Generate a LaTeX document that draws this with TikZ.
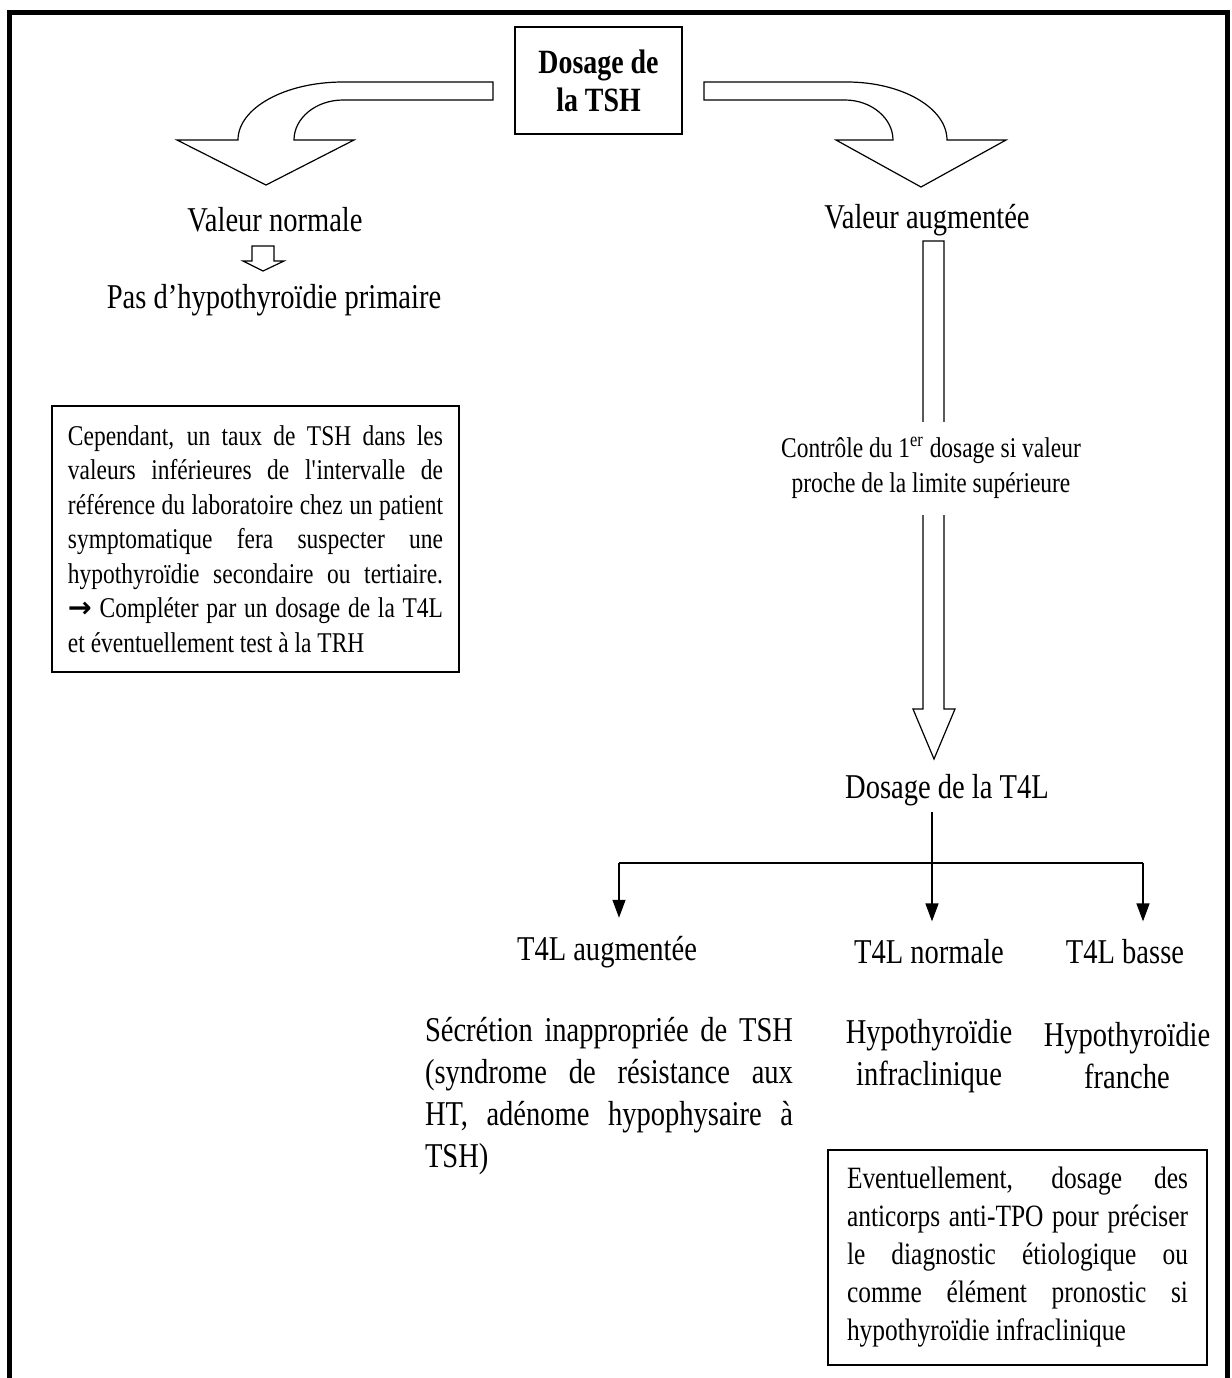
\documentclass[tikz,border=0pt]{standalone}
\usepackage{fontspec}
\setmainfont[FakeStretch=0.82]{Liberation Serif}
\newfontfamily\symfont{DejaVu Sans}
\usetikzlibrary{arrows.meta}

% one justified line of a text box
\newcommand{\jrow}[2]{\makebox[#1][s]{#2}}

\begin{document}
\begin{tikzpicture}[x=0.5pt,y=-0.5pt,
    big/.style={inner sep=0pt, font=\fontsize{17.4}{21}\selectfont, align=center},
    small/.style={font=\fontsize{14.3}{17.5}\selectfont, align=center},
    note/.style={draw, line width=0.7pt, align=left},
    block/.style={draw, line width=0.6pt, line join=miter},
    branch/.style={line width=0.7pt, -{Triangle[length=9pt,width=6.5pt]}}]

    \useasboundingbox (0,0) rectangle (1232,1378);

    % Outer frame
    \draw[line width=2.5pt] (9.5,1378) -- (9.5,12) -- (1227,12) -- (1227,1378);

    % Top box
    \node[draw, line width=0.7pt, minimum width=83.5pt, minimum height=53.5pt,
          font=\bfseries\fontsize{17}{19}\selectfont, align=center] (tsh) at (598.5,80.5) {Dosage de\\la TSH};

    % Curved block arrows
    \draw[block] (493,82) -- (343,82) .. controls (285,82) and (238,108) .. (238,140)
        -- (177,140) -- (266,185) -- (354,140) -- (294,140)
        .. controls (294,118) and (316,100) .. (343,100) -- (493,100) -- cycle;
    \draw[block] (704,82) -- (847,82) .. controls (902,82) and (947,108) .. (947,140)
        -- (1006,140) -- (921,187) -- (836,140) -- (893,140)
        .. controls (893,118) and (871,100) .. (845,100) -- (704,100) -- cycle;

    % Left branch
    \node[big] (normal) at (275,220) {Valeur normale};
    \draw[block] (252,246) -- (274,246) -- (274,261) -- (284,261) -- (263,271)
        -- (243,261) -- (252,261) -- cycle;
    \node[big] (pasprim) at (274,300) {Pas d’hypothyroïdie primaire};

    \node[note, font=\fontsize{14.3}{17.25}\selectfont, inner xsep=8pt, minimum height=133pt]
        (noteleft) at (255.5,539) {%
        \jrow{187.5pt}{Cependant, un taux de TSH dans les}\\
        \jrow{187.5pt}{valeurs inférieures de l\textquotesingle intervalle de}\\
        \jrow{187.5pt}{référence du laboratoire chez un patient}\\
        \jrow{187.5pt}{symptomatique fera suspecter une}\\
        \jrow{187.5pt}{hypothyroïdie secondaire ou tertiaire.}\\
        \jrow{187.5pt}{{\symfont\bfseries →} Compléter par un dosage de la T4L}\\
        et éventuellement test à la TRH};

    % Right branch
    \node[big] (augm) at (927,220) {Valeur augmentée};
    \draw[block] (923,241) -- (944,241) -- (944,709) -- (955,709) -- (934,759)
        -- (913,709) -- (923,709) -- cycle;
    \node[small, fill=white, inner ysep=8pt] (controle) at (931,468)
        {Contrôle du 1\textsuperscript{er} dosage si valeur\\proche de la limite supérieure};
    \node[big, inner ysep=3pt] (dost4l) at (947,790) {Dosage de la T4L};

    % T4L results
    \node[big, inner ysep=9pt] (t4laug) at (607,952) {T4L augmentée};
    \node[big, inner ysep=9pt] (t4lnorm) at (929,952) {T4L normale};
    \node[big, inner ysep=9pt] (t4lbasse) at (1125,952) {T4L basse};

    \coordinate (split) at (932,863);
    \coordinate (brl) at (619,863);
    \coordinate (brr) at (1143,863);
    \draw[line width=0.7pt] (split |- dost4l.south) -- (split);
    \draw[line width=0.7pt] (brl) -- (brr);
    \draw[branch] (brl) -- (brl |- t4laug.north);
    \draw[branch] (split) -- (split |- t4lnorm.north);
    \draw[branch] (brr) -- (brr |- t4lbasse.north);

    \node[big, align=left] (secretion) at (609,1096) {%
        \jrow{184pt}{Sécrétion inappropriée de TSH}\\
        \jrow{184pt}{(syndrome de résistance aux}\\
        \jrow{184pt}{HT, adénome hypophysaire à}\\
        TSH)};
    \node[big] (infracl) at (929,1056) {Hypothyroïdie\\infraclinique};
    \node[big] (franche) at (1127,1056) {Hypothyroïdie\\franche};

    \node[note, font=\fontsize{15.5}{19}\selectfont, inner xsep=9.5pt, minimum height=107.5pt]
        (noteright) at (1017.5,1257.5) {%
        \jrow{170.5pt}{Eventuellement, dosage des}\\
        \jrow{170.5pt}{anticorps anti-TPO pour préciser}\\
        \jrow{170.5pt}{le diagnostic étiologique ou}\\
        \jrow{170.5pt}{comme élément pronostic si}\\
        hypothyroïdie infraclinique};

\end{tikzpicture}
\end{document}
